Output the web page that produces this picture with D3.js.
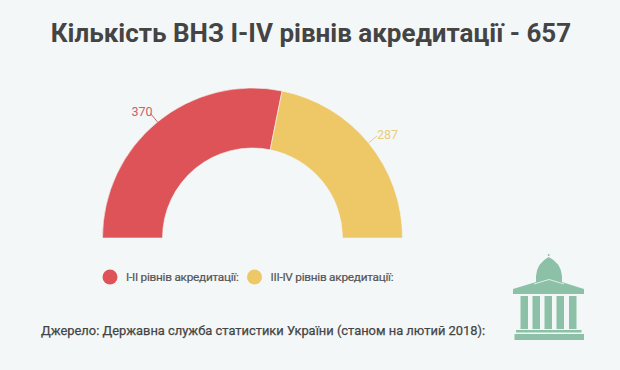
<!DOCTYPE html>
<html>
<head>
<meta charset="utf-8">
<script src="https://cdn.jsdelivr.net/npm/d3@7"></script>
<style>
  html, body { margin: 0; padding: 0; background: #f4f7f7; }
  text { font-family: Roboto, sans-serif; }
</style>
</head>
<body>
<div id="chart"></div>
<script>
const titleText = "Кількість ВНЗ I-IV рівнів акредитації - 657"
const sourceText = "Джерело: Державна служба статистики України (станом на лютий 2018):"
const categories = ["I-II рівнів акредитації:", "III-IV рівнів акредитації:"]
const values = [370, 287]
const colors = ["#dd5358", "#eec766"]
const labelColors = ["#c9626a", "#e8cc80"]

const width = 620
const height = 370
const center = { x: 252.5, y: 238 }
const outerR = 150
const innerR = 90
const BUILDING_COLOR = "#8cc1a8"
const BG = "#f4f7f7"

let svg = d3.select("#chart")
  .append("svg")
  .attr("width", width)
  .attr("height", height)
  .style("display", "block")

svg.append("rect")
  .attr("width", width)
  .attr("height", height)
  .attr("fill", BG)

svg.append("text")
  .attr("x", 311)
  .attr("y", 42)
  .attr("text-anchor", "middle")
  .attr("font-size", 26)
  .attr("font-weight", 700)
  .attr("fill", "#444444")
  .text(titleText)

// half donut
let pie = d3.pie().sort(null).startAngle(-Math.PI / 2).endAngle(Math.PI / 2)
let arc = d3.arc().innerRadius(innerR).outerRadius(outerR)
let lineStart = d3.arc().innerRadius(outerR).outerRadius(outerR)
let lineEnd = d3.arc().innerRadius(outerR + 11).outerRadius(outerR + 11)

let arcs = pie(values)
let gaugeG = svg.append("g")
  .attr("transform", "translate(" + center.x + "," + center.y + ")")

gaugeG.selectAll(".slice")
  .data(arcs)
  .join("path")
  .attr("class", "slice")
  .attr("d", arc)
  .attr("fill", (d, i) => colors[i])
  .attr("stroke", BG)
  .attr("stroke-width", 0.6)

gaugeG.selectAll(".leader")
  .data(arcs)
  .join("line")
  .attr("class", "leader")
  .attr("x1", d => lineStart.centroid(d)[0])
  .attr("y1", d => lineStart.centroid(d)[1])
  .attr("x2", d => lineEnd.centroid(d)[0])
  .attr("y2", d => lineEnd.centroid(d)[1])
  .attr("stroke", (d, i) => labelColors[i])
  .attr("stroke-width", 1)

gaugeG.selectAll(".value")
  .data(arcs)
  .join("text")
  .attr("class", "value")
  .attr("x", (d, i) => lineEnd.centroid(d)[0] + (i == 0 ? 2 : 0))
  .attr("y", d => lineEnd.centroid(d)[1] + 3)
  .attr("text-anchor", (d, i) => i == 0 ? "end" : "start")
  .attr("font-size", 12.5)
  .attr("fill", (d, i) => labelColors[i])
  .text(d => d.value)

// legend
let legendX = d3.scaleOrdinal().domain(categories).range([110, 254.5])
let legendG = svg.selectAll(".legend")
  .data(categories)
  .join("g")
  .attr("class", "legend")
  .attr("transform", d => "translate(" + legendX(d) + ",277)")

legendG.append("circle")
  .attr("r", 7.5)
  .attr("fill", (d, i) => colors[i])

legendG.append("text")
  .attr("x", 16)
  .attr("y", 4)
  .attr("font-size", 11.8)
  .attr("letter-spacing", -0.25)
  .attr("stroke", "#555555")
  .attr("stroke-width", 0.2)
  .attr("fill", "#555555")
  .text(d => d)

svg.append("text")
  .attr("x", 41)
  .attr("y", 335)
  .attr("font-size", 12.9)
  .attr("stroke", "#444444")
  .attr("stroke-width", 0.25)
  .attr("fill", "#444444")
  .text(sourceText)

// building icon
let icon = svg.append("g").attr("fill", BUILDING_COLOR)
icon.append("circle").attr("cx", 548.7).attr("cy", 255).attr("r", 1)
icon.append("path").attr("d", "M536 282 L536 276 Q537 263 548.7 257 Q561 263 562 276 L562 282 Z")
icon.append("path").attr("d", "M513 289 L549 278 L584 289 Z")
icon.append("path")
  .attr("d", "M534 284 L549 279.5 L564 284")
  .attr("fill", "none")
  .attr("stroke", BG)
  .attr("stroke-width", 0.8)
icon.append("rect").attr("x", 513).attr("y", 289).attr("width", 71).attr("height", 5)
icon.selectAll(".col")
  .data([520.5, 532.5, 544.5, 556.5, 569])
  .join("rect")
  .attr("class", "col")
  .attr("x", d => d)
  .attr("y", 296)
  .attr("width", 7.5)
  .attr("height", 33)
icon.append("rect").attr("x", 516).attr("y", 330).attr("width", 65.5).attr("height", 2.5)
icon.append("rect").attr("x", 514.5).attr("y", 334).attr("width", 69.5).attr("height", 6)
</script>
</body>
</html>
